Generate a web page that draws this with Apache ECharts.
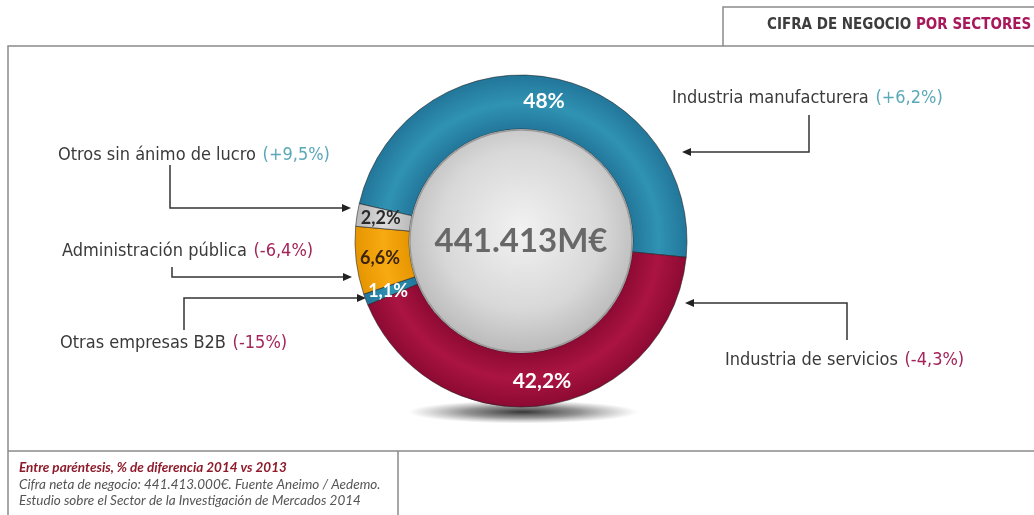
<!DOCTYPE html>
<html>
<head>
<meta charset="utf-8">
<script src="https://cdn.jsdelivr.net/npm/echarts@6/dist/echarts.min.js"></script>
<style>html,body{margin:0;padding:0;background:#fff}#c{width:1034px;height:515px}</style>
</head>
<body>
<div id="c"></div>
<script>
// ---- data ----
var categories = ['Industria manufacturera', 'Industria de servicios', 'Otras empresas B2B', 'Administración pública', 'Otros sin ánimo de lucro'];
var shares = [48, 42.2, 1.1, 6.6, 2.2];
var shareLabels = ['48%', '42,2%', '1,1%', '6,6%', '2,2%'];
var changes = ['(+6,2%)', '(-4,3%)', '(-15%)', '(-6,4%)', '(+9,5%)'];
var changePositive = [true, false, false, false, true];
var totalLabel = '441.413M€';
var titleParts = ['CIFRA DE NEGOCIO', 'POR SECTORES'];
var notes = ['Entre paréntesis, % de diferencia 2014 vs 2013',
             'Cifra neta de negocio: 441.413.000€. Fuente Aneimo / Aedemo.',
             'Estudio sobre el Sector de la Investigación de Mercados 2014'];

// ---- styling ----
var CX = 521, CY = 241, R_IN = 112, R_OUT = 166;
function ringGrad(edge, mid) {
  return {type: 'radial', x: CX, y: CY, r: R_OUT, global: true,
    colorStops: [{offset: 0, color: edge}, {offset: 0.67, color: edge}, {offset: 0.83, color: mid}, {offset: 1, color: edge}]};
}
var sliceColors = [
  ringGrad('#22769a', '#3093b3'),
  ringGrad('#8c0a33', '#ab1442'),
  ringGrad('#22769a', '#3093b3'),
  ringGrad('#e59500', '#f8aa12'),
  ringGrad('#b9b9b9', '#dcdcdc')
];
var labelColors = ['#ffffff', '#ffffff', '#ffffff', '#3a2410', '#2a2a2a'];
var labelSizes = [21, 21, 18, 18, 18];
var POS = '#5aa8b8', NEG = '#a3245a', TXT = '#3a3a3a';
var LBL_FONT = '"DejaVu Sans Condensed", "DejaVu Sans", sans-serif';

var chart = echarts.init(document.getElementById('c'));

var pieData = categories.map(function (c, i) {
  return {
    name: c, value: shares[i],
    itemStyle: {color: sliceColors[i]},
    label: {formatter: shareLabels[i], color: labelColors[i], fontSize: labelSizes[i]}
  };
});

// annotation label positions [x, y] (left, middle)
var annPos = [[672, 98], [725, 360], [60, 343], [62, 251], [58, 155]];
var connectors = [
  {pts: [[809, 115], [809, 152], [690, 152]], tip: [682, 152], dir: -1},
  {pts: [[847, 340], [847, 303], [693, 303]], tip: [685, 303], dir: -1},
  {pts: [[184, 330], [184, 298], [358, 298]], tip: [366, 298], dir: 1},
  {pts: [[172, 267], [172, 277], [344, 277]], tip: [352, 277], dir: 1},
  {pts: [[170, 165], [170, 208], [343, 208]], tip: [351, 208], dir: 1}
];

var graphics = [];
// frame lines
var lineStyle = {stroke: '#8a8a8a', lineWidth: 1.5, fill: null};
graphics.push({type: 'polyline', shape: {points: [[8, 515], [8, 46], [1034, 46]]}, style: lineStyle, silent: true});
graphics.push({type: 'polyline', shape: {points: [[723, 46], [723, 7], [1034, 7]]}, style: lineStyle, silent: true});
graphics.push({type: 'line', shape: {x1: 8, y1: 451, x2: 1034, y2: 451}, style: lineStyle, silent: true});
graphics.push({type: 'line', shape: {x1: 398, y1: 451, x2: 398, y2: 515}, style: lineStyle, silent: true});
// title
graphics.push({type: 'text', x: 767, y: 25, silent: true, style: {
  text: '{a|' + titleParts[0] + ' }{b|' + titleParts[1] + '}', verticalAlign: 'middle',
  rich: {
    a: {fontFamily: LBL_FONT, fontWeight: 'bold', fontSize: 15, fill: '#3d3d3d', color: '#3d3d3d'},
    b: {fontFamily: LBL_FONT, fontWeight: 'bold', fontSize: 15, fill: '#a8175a', color: '#a8175a'}
  }}});
// shadow under donut
graphics.push({type: 'circle', x: 523, y: 412, scaleY: 0.1, z: 0, silent: true,
  shape: {cx: 0, cy: 0, r: 115},
  style: {fill: {type: 'radial', x: 0.5, y: 0.5, r: 0.5, colorStops: [
    {offset: 0, color: 'rgba(20,20,20,0.85)'}, {offset: 0.5, color: 'rgba(40,40,40,0.5)'}, {offset: 1, color: 'rgba(80,80,80,0)'}]}}});
// annotations
categories.forEach(function (c, i) {
  var col = changePositive[i] ? POS : NEG;
  graphics.push({type: 'text', x: annPos[i][0], y: annPos[i][1], silent: true, style: {
    text: '{a|' + c + '}  {b|' + changes[i] + '}', verticalAlign: 'middle',
    rich: {
      a: {fontFamily: LBL_FONT, fontSize: 18, fill: TXT, color: TXT},
      b: {fontFamily: LBL_FONT, fontSize: 18, fill: col, color: col}
    }}});
  var cn = connectors[i];
  graphics.push({type: 'polyline', silent: true, shape: {points: cn.pts}, style: {stroke: '#333', lineWidth: 1.5, fill: null}});
  var t = cn.tip, d = cn.dir;
  graphics.push({type: 'polygon', silent: true, shape: {points: [t, [t[0] - d * 9, t[1] - 4], [t[0] - d * 9, t[1] + 4]]}, style: {fill: '#222'}});
});
// notes
notes.forEach(function (n, i) {
  graphics.push({type: 'text', x: 19, y: 468 + i * 16.5, silent: true, style: {
    text: n, verticalAlign: 'middle',
    font: (i === 0 ? 'italic bold ' : 'italic ') + '13.5px Lato, "Open Sans", sans-serif',
    fill: i === 0 ? '#8e1b2b' : '#555555'}});
});

chart.setOption({
  backgroundColor: '#ffffff',
  animation: false,
  graphic: graphics,
  series: [
    {
      type: 'pie', z: 3, silent: true,
      center: [CX, CY], radius: [R_IN, R_OUT],
      startAngle: 167, clockwise: true, avoidLabelOverlap: false,
      itemStyle: {borderColor: 'rgba(30,30,30,0.55)', borderWidth: 1},
      label: {show: true, position: 'inside', fontWeight: 'bold', fontFamily: 'Lato, "Open Sans", sans-serif'},
      labelLine: {show: false},
      emphasis: {disabled: true},
      data: pieData
    },
    {
      type: 'pie', z: 4, silent: true,
      center: [CX, CY], radius: [0, R_IN - 1],
      itemStyle: {
        borderColor: '#9a9a9a', borderWidth: 1.5,
        color: {type: 'radial', x: 0.5, y: 0.45, r: 0.6, colorStops: [
          {offset: 0, color: '#f2f2f2'}, {offset: 0.6, color: '#d8d8d8'}, {offset: 1, color: '#b2b2b2'}]}
      },
      label: {show: true, position: 'center', formatter: totalLabel, fontSize: 33, fontWeight: 'bold',
        fontFamily: 'Lato, "Open Sans", sans-serif', color: '#686868'},
      labelLine: {show: false},
      emphasis: {disabled: true},
      data: [{name: 'total', value: 1}]
    }
  ]
});
</script>
</body>
</html>
